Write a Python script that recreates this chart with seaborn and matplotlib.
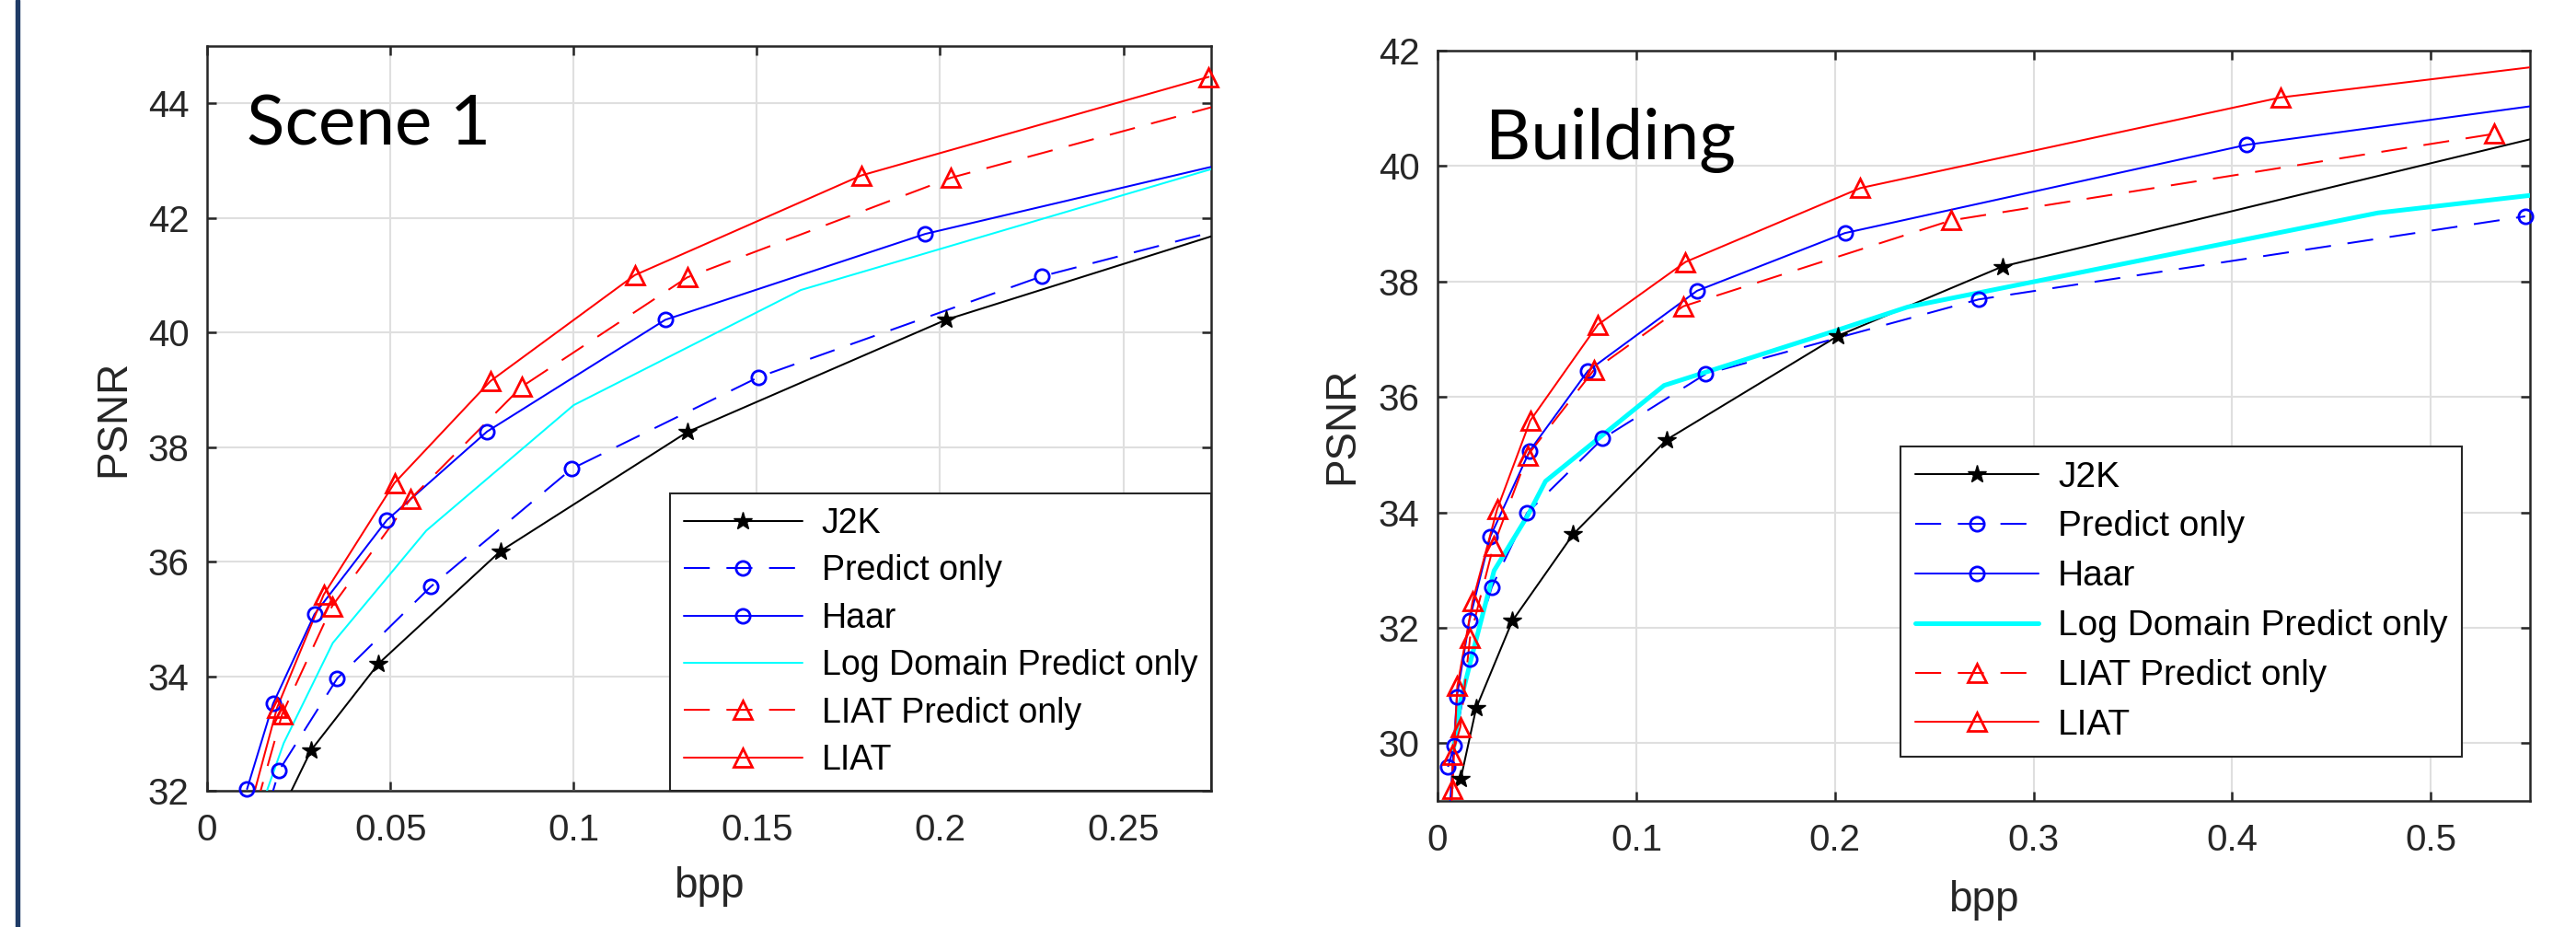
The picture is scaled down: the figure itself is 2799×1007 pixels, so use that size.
import matplotlib
matplotlib.use('Agg')
import matplotlib.pyplot as plt
import seaborn as sns
import pandas as pd
from matplotlib.lines import Line2D
from matplotlib.patches import Rectangle
from matplotlib.ticker import FormatStrFormatter

sns.set_theme(style='white')
plt.rcParams['font.family'] = ['Liberation Sans', 'DejaVu Sans']
plt.rcParams['axes.unicode_minus'] = False

# ---------------- data: Scene 1 ----------------
s1_j2k_bpp = [0.0154, 0.0284, 0.0468, 0.080, 0.131, 0.2016, 0.30]
s1_j2k_psnr = [31.0, 32.71, 34.22, 36.18, 38.26, 40.22, 42.2]
s1_pred_bpp = [0.0133, 0.0197, 0.0355, 0.0610, 0.0995, 0.1505, 0.2278, 0.30]
s1_pred_psnr = [31.0, 32.36, 33.96, 35.56, 37.62, 39.22, 40.98, 42.18]
s1_haar_bpp = [0.0109, 0.0180, 0.0293, 0.0490, 0.0764, 0.125, 0.196, 0.30]
s1_haar_psnr = [32.03, 33.52, 35.08, 36.72, 38.27, 40.22, 41.72, 43.28]
s1_log_bpp = [0.0108, 0.0209, 0.0343, 0.0598, 0.100, 0.162, 0.30]
s1_log_psnr = [31.0, 32.83, 34.58, 36.54, 38.73, 40.74, 43.34]
s1_liatp_bpp = [0.0102, 0.0205, 0.0341, 0.0556, 0.0858, 0.131, 0.203, 0.30]
s1_liatp_psnr = [31.0, 33.34, 35.22, 37.1, 39.05, 40.96, 42.70, 44.38]
s1_liat_bpp = [0.0088, 0.0191, 0.0318, 0.0511, 0.0773, 0.1167, 0.1785, 0.2733]
s1_liat_psnr = [31.0, 33.45, 35.42, 37.37, 39.15, 41.0, 42.74, 44.46]

# ---------------- data: Building ----------------
b_j2k_bpp = [0.0116, 0.0194, 0.0376, 0.0682, 0.1153, 0.2016, 0.2843, 0.60]
b_j2k_psnr = [29.38, 30.61, 32.12, 33.62, 35.26, 37.06, 38.26, 40.88]
b_pred_bpp = [0.0052, 0.0083, 0.0163, 0.0272, 0.0450, 0.0831, 0.135, 0.2723, 0.5475]
b_pred_psnr = [29.59, 29.96, 31.45, 32.70, 33.99, 35.28, 36.40, 37.69, 39.13]
b_haar_bpp = [0.0058, 0.0097, 0.0160, 0.0265, 0.0464, 0.0756, 0.1306, 0.205, 0.4074, 0.60]
b_haar_psnr = [28.7, 30.81, 32.13, 33.58, 35.07, 36.45, 37.84, 38.84, 40.37, 41.27]
b_log_bpp = [0.008, 0.0114, 0.0176, 0.0284, 0.0454, 0.0543, 0.114, 0.135, 0.2014, 0.2367, 0.4734, 0.60]
b_log_psnr = [29.9, 30.71, 31.56, 32.99, 33.95, 34.54, 36.2, 36.43, 37.16, 37.56, 39.19, 39.69]
b_liatp_bpp = [0.0075, 0.0075, 0.0114, 0.0163, 0.0281, 0.0453, 0.0785, 0.1236, 0.2585, 0.532]
b_liatp_psnr = [29.21, 29.80, 30.28, 31.83, 33.42, 34.99, 36.46, 37.57, 39.06, 40.56]
b_liat_bpp = [0.0068, 0.0099, 0.0176, 0.0299, 0.0466, 0.0806, 0.1248, 0.2128, 0.4244, 0.60]
b_liat_psnr = [28.8, 30.99, 32.46, 34.05, 35.59, 37.25, 38.34, 39.62, 41.19, 41.92]

labels = ['J2K', 'Predict only', 'Haar', 'Log Domain Predict only',
          'LIAT Predict only', 'LIAT']
colors = ['#000000', '#0000FF', '#0000FF', '#00FFFF', '#FF0000', '#FF0000']
dash = (0, (14, 9))
linestyles = ['-', dash, '-', '-', dash, '-']
markers = ['*', 'o', 'o', None, '^', '^']
msizes = {'*': 15, 'o': 11, '^': 14}

scene_x = [s1_j2k_bpp, s1_pred_bpp, s1_haar_bpp, s1_log_bpp, s1_liatp_bpp, s1_liat_bpp]
scene_y = [s1_j2k_psnr, s1_pred_psnr, s1_haar_psnr, s1_log_psnr, s1_liatp_psnr, s1_liat_psnr]
build_x = [b_j2k_bpp, b_pred_bpp, b_haar_bpp, b_log_bpp, b_liatp_bpp, b_liat_bpp]
build_y = [b_j2k_psnr, b_pred_psnr, b_haar_psnr, b_log_psnr, b_liatp_psnr, b_liat_psnr]

LW = 1.45
MEW = 2.0
INK = '#262626'

fig = plt.figure(figsize=(27.99, 10.07), dpi=100)
fig.patch.set_facecolor('white')
# dark blue bar at the left edge
fig.patches.append(Rectangle((17 / 2799, 0), 4 / 2799, 1, transform=fig.transFigure,
                             color='#1F3B66', zorder=10))

ax1 = fig.add_axes([0.0804, 0.147, 0.3898, 0.8034])
ax2 = fig.add_axes([0.5581, 0.136, 0.4241, 0.8093])


def draw_panel(ax, xs, ys, xlim, ylim, xticks, yticks, cyan_lw):
    handles = []
    for i in range(6):
        df = pd.DataFrame({'bpp': xs[i], 'psnr': ys[i]})
        lw = cyan_lw if i == 3 else LW
        sns.lineplot(data=df, x='bpp', y='psnr', ax=ax, color=colors[i],
                     linestyle=linestyles[i], linewidth=lw, sort=False,
                     estimator=None, legend=False, zorder=3)
        m = markers[i]
        if m is not None:
            # markers are drawn unclipped, like MATLAB does at the axes edge
            inside = df[(df.bpp >= xlim[0]) & (df.bpp <= xlim[1]) &
                        (df.psnr >= ylim[0]) & (df.psnr <= ylim[1])]
            ax.plot(inside.bpp, inside.psnr, linestyle='none', marker=m,
                    ms=msizes[m], mew=MEW if m != '*' else 1.0,
                    mfc='none' if m != '*' else colors[i], mec=colors[i],
                    clip_on=False, zorder=4)
        handles.append(Line2D([], [], color=colors[i], linestyle=linestyles[i],
                              linewidth=lw, marker=m,
                              ms=msizes.get(m, 0), mew=MEW if m != '*' else 1.0,
                              mfc='none' if m != '*' else colors[i],
                              mec=colors[i]))
    ax.set_xlim(*xlim)
    ax.set_ylim(*ylim)
    ax.set_xticks(xticks)
    ax.set_yticks(yticks)
    ax.xaxis.set_major_formatter(FormatStrFormatter('%g'))
    ax.yaxis.set_major_formatter(FormatStrFormatter('%g'))
    ax.grid(True, color='#DFDFDF', linewidth=1.5)
    ax.set_axisbelow(True)
    for sp in ax.spines.values():
        sp.set_visible(True)
        sp.set_color(INK)
        sp.set_linewidth(1.8)
    ax.tick_params(axis='both', which='both', direction='in', length=7, width=1.8,
                   color=INK, labelcolor=INK, labelsize=29,
                   top=True, right=True, bottom=True, left=True)
    ax.tick_params(axis='x', pad=17)
    ax.tick_params(axis='y', pad=14)
    ax.set_xlabel('bpp', fontsize=33, color=INK)
    ax.set_ylabel('PSNR', fontsize=33, color=INK)
    return handles


h1 = draw_panel(ax1, scene_x, scene_y, (0, 0.274), (32, 45),
                [0, 0.05, 0.1, 0.15, 0.2, 0.25], [32, 34, 36, 38, 40, 42, 44], LW)
h2 = draw_panel(ax2, build_x, build_y, (0, 0.55), (29, 42),
                [0, 0.1, 0.2, 0.3, 0.4, 0.5], [30, 32, 34, 36, 38, 40, 42], 3.6)

ax1.xaxis.set_label_coords(0.5, -0.102)
ax1.yaxis.set_label_coords(-0.073, 0.5)
ax2.xaxis.set_label_coords(0.5, -0.105)
ax2.yaxis.set_label_coords(-0.069, 0.5)

ax1.text(0.0394, 0.8665, 'Scene 1', transform=ax1.transAxes, fontsize=55,
         family='Lato', va='baseline', ha='left', color='black', zorder=6)
ax2.text(0.0438, 0.855, 'Building', transform=ax2.transAxes, fontsize=55,
         family='Lato', va='baseline', ha='left', color='black', zorder=6)

leg_kw = dict(frameon=True, fancybox=False, framealpha=1, edgecolor=INK,
              handlelength=3.45, handletextpad=0.55,
              borderpad=0.4, labelcolor='black')
leg1 = ax1.legend(h1, labels, loc='lower right', borderaxespad=0,
                  fontsize=27, labelspacing=0.41, **leg_kw)
leg2 = ax2.legend(h2, labels, loc='upper left',
                  bbox_to_anchor=(2065 / 2799, 1 - 485 / 1007),
                  bbox_transform=fig.transFigure, borderaxespad=0,
                  fontsize=28, labelspacing=0.46, **leg_kw)
for leg in (leg1, leg2):
    leg.get_frame().set_linewidth(1.5)
    leg.set_zorder(8)

fig.savefig('out.png', dpi=100)
